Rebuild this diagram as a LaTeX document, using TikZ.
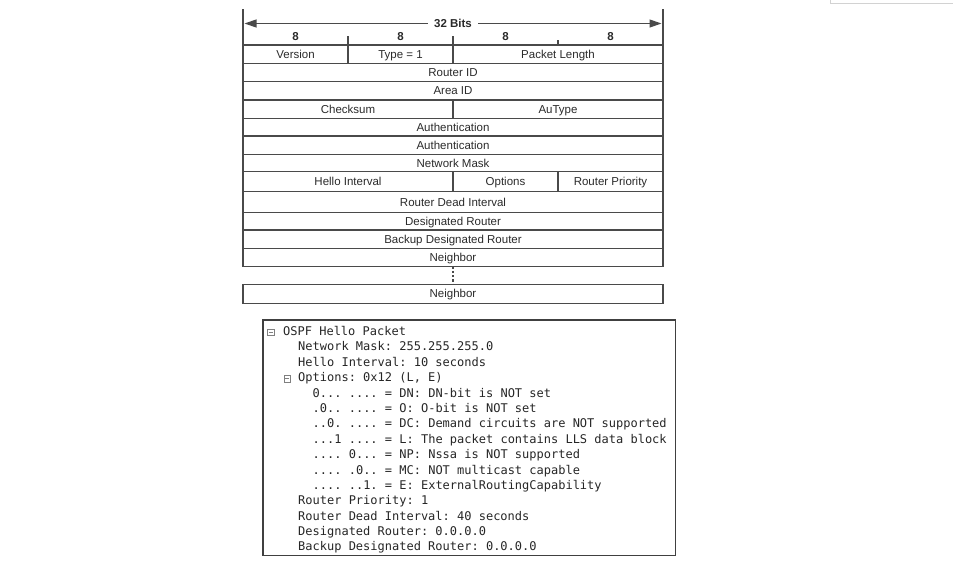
\documentclass[tikz,border=0pt]{standalone}
\usepackage{fontspec}
\setmainfont{Liberation Sans}
\newfontfamily\monof{DejaVu Sans Mono}
\usetikzlibrary{arrows.meta}
\definecolor{linec}{HTML}{4A4A4A}
\definecolor{textc}{HTML}{2A2A2A}
\begin{document}
\frenchspacing
\begin{tikzpicture}[x=1pt,y=-1pt,
  cell/.style={draw=linec, line width=1.2pt, inner sep=0pt, outer sep=0pt,
    font=\fontsize{11.5}{12}\selectfont, text=textc, text height=9.2pt, text depth=1pt},
  hdr/.style={font=\bfseries\fontsize{11.5}{12}\selectfont, text=textc, inner sep=1pt},
  mono/.style={anchor=base west, inner sep=0pt, font=\monof\fontsize{12}{14}\selectfont, text=black!85},
  icon/.style={draw=gray, line width=0.7pt, minimum size=6.8pt, inner sep=0pt,
    path picture={\draw[gray, line width=0.7pt] ([xshift=1.5pt]path picture bounding box.west) -- ([xshift=-1.5pt]path picture bounding box.east);}},
  rule/.style={draw=linec, line width=1.2pt}]
\useasboundingbox (0,0) rectangle (953,568);
% faint corner artefact
\draw[gray!35, line width=0.9pt] (830,0) -- (830,3.3) -- (953,3.3);

% ---- header ----
\node[hdr, fill=white, inner xsep=6pt] (bits) at (453,23.5) {32 Bits};
\coordinate (lt) at (243,9);
\coordinate (rt) at (663,9);
\coordinate (la) at (244.5,23.5);
\coordinate (ra) at (661.5,23.5);
\draw[rule, -{Triangle[length=12pt,width=8pt]}] (bits.west) -- (la);
\draw[rule, -{Triangle[length=12pt,width=8pt]}] (bits.east) -- (ra);
\node[hdr] (e1) at (295.5,37) {8};
\node[hdr] (e2) at (400.5,37) {8};
\node[hdr] (e3) at (505.5,37) {8};
\node[hdr] (e4) at (610.5,37) {8};

% ---- rows ----
\node[cell, minimum width=105pt, minimum height=18.5pt] (ver) at (295.5,54.25) {Version};
\node[cell, minimum width=105pt, minimum height=18.5pt] (typ) at (400.5,54.25) {Type = 1};
\node[cell, minimum width=210pt, minimum height=18.5pt] (len) at (558,54.25) {Packet Length};
\node[cell, minimum width=420pt, minimum height=18.2pt] (rid) at (453,72.6) {Router ID};
\node[cell, minimum width=420pt, minimum height=18.3pt] (aid) at (453,90.85) {Area ID};
\node[cell, minimum width=210pt, minimum height=18.3pt] (chk) at (348,109.15) {Checksum};
\node[cell, minimum width=210pt, minimum height=18.3pt] (aut) at (558,109.15) {AuType};
\node[cell, minimum width=420pt, minimum height=17.7pt] (au1) at (453,127.15) {Authentication};
\node[cell, minimum width=420pt, minimum height=18.3pt] (au2) at (453,145.15) {Authentication};
\node[cell, minimum width=420pt, minimum height=17.4pt] (nm) at (453,163) {Network Mask};
\node[cell, minimum width=210pt, minimum height=20pt] (hi) at (348,181.7) {Hello Interval};
\node[cell, minimum width=105pt, minimum height=20pt] (opt) at (505.5,181.7) {Options};
\node[cell, minimum width=105pt, minimum height=20pt] (rp) at (610.5,181.7) {Router Priority};
\node[cell, minimum width=420pt, minimum height=20.6pt] (rdi) at (453,202) {Router Dead Interval};
\node[cell, minimum width=420pt, minimum height=17.7pt] (dr) at (453,221.15) {Designated Router};
\node[cell, minimum width=420pt, minimum height=18.3pt] (bdr) at (453,239.15) {Backup Designated Router};
\node[cell, minimum width=420pt, minimum height=18.4pt] (nb1) at (453,257.5) {Neighbor};
\node[cell, minimum width=420pt, minimum height=19pt] (nb2) at (453,293.8) {Neighbor};

% outer verticals and ticks
\draw[rule] (ver.north west) -- (lt);
\draw[rule] (len.north east) -- (rt);
\draw[rule] (typ.north west) -- ++(0,-9);
\draw[rule] (typ.north east) -- ++(0,-9);
\draw[rule] (len.north) -- ++(0,-5);
% continuation
\draw[draw=linec, line width=1.2pt, dash pattern=on 2.2pt off 2pt] (nb1.south) -- (nb2.north);

% ---- lower decoded box ----
\node[draw=black!75, line width=1.4pt, minimum width=412.5pt, minimum height=235.5pt, inner sep=0pt] (box) at (469.25,437.75) {};
\node[icon] (ic1) at (270.7,332.3) {};
\node[icon] (ic2) at (287.3,378.5) {};
\node[mono] (t0) at (283,335.5) {OSPF Hello Packet};
\node[mono] (t1) at (298,350.89) {Network Mask: 255.255.255.0};
\node[mono] (t2) at (298,366.28) {Hello Interval: 10 seconds};
\node[mono] (t3) at (298,381.67) {Options: 0x12 (L, E)};
\node[mono] (t4) at (312.5,397.06) {0... .... = DN: DN-bit is NOT set};
\node[mono] (t5) at (312.5,412.45) {.0.. .... = O: O-bit is NOT set};
\node[mono] (t6) at (312.5,427.84) {..0. .... = DC: Demand circuits are NOT supported};
\node[mono] (t7) at (312.5,443.23) {...1 .... = L: The packet contains LLS data block};
\node[mono] (t8) at (312.5,458.62) {.... 0... = NP: Nssa is NOT supported};
\node[mono] (t9) at (312.5,474.01) {.... .0.. = MC: NOT multicast capable};
\node[mono] (t10) at (312.5,489.4) {.... ..1. = E: ExternalRoutingCapability};
\node[mono] (t11) at (298,504.79) {Router Priority: 1};
\node[mono] (t12) at (298,520.18) {Router Dead Interval: 40 seconds};
\node[mono] (t13) at (298,535.57) {Designated Router: 0.0.0.0};
\node[mono] (t14) at (298,550.96) {Backup Designated Router: 0.0.0.0};
\end{tikzpicture}
\end{document}
